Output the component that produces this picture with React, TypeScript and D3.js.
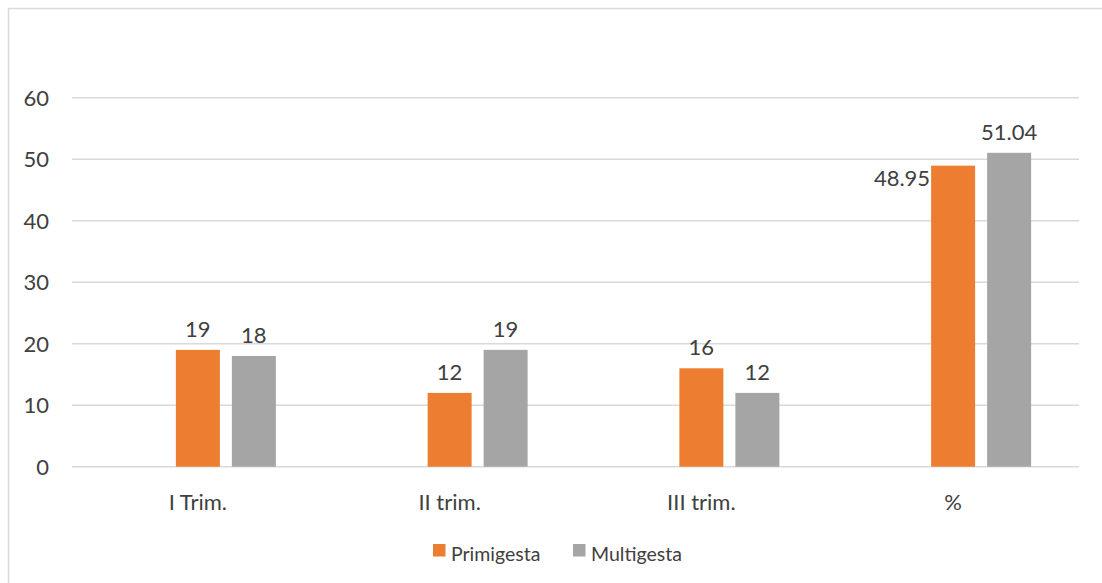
import React from "react";
import * as d3 from "d3";

// Categories along the x axis
const categories: string[] = ["I Trim.", "II trim.", "III trim.", "%"];
// Series values
const primigesta: number[] = [19, 12, 16, 48.95];
const multigesta: number[] = [18, 19, 12, 51.04];
// Series names (first slot is an empty series kept for spacing)
const seriesSlots: string[] = ["", "Primigesta", "Multigesta"];
const yTicks: number[] = [0, 10, 20, 30, 40, 50, 60];

const W = 1102;
const H = 583;
const FONT = "Lato, 'Open Sans', sans-serif";
const TEXT = "#404040";
const GRID = "#d9d9d9";
const COLORS: Record<string, string> = { Primigesta: "#ED7D31", Multigesta: "#A5A5A5" };

export default function App() {
  const left = 72;
  const right = 1079;
  const y = d3.scaleLinear().domain([0, 60]).range([466.7, 97.7]);
  const x0 = d3.scaleBand<string>().domain(categories).range([left, right]).paddingInner(0).paddingOuter(0);
  const x1 = d3
    .scaleBand<string>()
    .domain(seriesSlots)
    .range([0, x0.bandwidth()])
    .paddingInner(0.2143)
    .paddingOuter(0.855);

  const series = [
    { name: "Primigesta", values: primigesta },
    { name: "Multigesta", values: multigesta },
  ];

  return (
    <svg
      width={W}
      height={H}
      style={{ position: "absolute", left: 0, top: 0, background: "#fff" }}
      fontFamily={FONT}
    >
      {/* chart frame (left and top edges fall inside the view) */}
      <line x1={8.5} x2={8.5} y1={8} y2={H} stroke={GRID} strokeWidth={1.5} />
      <line x1={8} x2={W} y1={8.5} y2={8.5} stroke={GRID} strokeWidth={1.5} />

      {/* gridlines and y tick labels */}
      {yTicks.map((t) => (
        <g key={t}>
          <line x1={left} x2={right} y1={y(t)} y2={y(t)} stroke={GRID} strokeWidth={1.5} />
          <text x={49} y={y(t) + 8} textAnchor="end" fontSize={22} fill={TEXT}>
            {t}
          </text>
        </g>
      ))}

      {/* bars and value labels */}
      {series.map((s) =>
        s.values.map((v, i) => {
          const cat = categories[i];
          const bx = (x0(cat) ?? 0) + (x1(s.name) ?? 0);
          const bw = x1.bandwidth();
          const top = y(v);
          const label = String(v);
          const beside = s.name === "Primigesta" && cat === "%";
          return (
            <g key={s.name + cat}>
              <rect x={bx} y={top} width={bw} height={y(0) - top} fill={COLORS[s.name]} />
              {beside ? (
                <text x={bx - 1} y={top + 20} textAnchor="end" fontSize={22} fill={TEXT}>
                  {label}
                </text>
              ) : (
                <text x={bx + bw / 2} y={top - 13} textAnchor="middle" fontSize={22} fill={TEXT}>
                  {label}
                </text>
              )}
            </g>
          );
        })
      )}

      {/* category labels */}
      {categories.map((c) => (
        <text
          key={c}
          x={(x0(c) ?? 0) + x0.bandwidth() / 2}
          y={510}
          textAnchor="middle"
          fontSize={22}
          fill={TEXT}
        >
          {c}
        </text>
      ))}

      {/* legend */}
      {series.map((s, i) => {
        const lx = i === 0 ? 433 : 573;
        return (
          <g key={s.name}>
            <rect x={lx} y={544} width={12.5} height={12.5} fill={COLORS[s.name]} />
            <text x={lx + 18} y={561} fontSize={19.5} fill={TEXT}>
              {s.name}
            </text>
          </g>
        );
      })}
    </svg>
  );
}
